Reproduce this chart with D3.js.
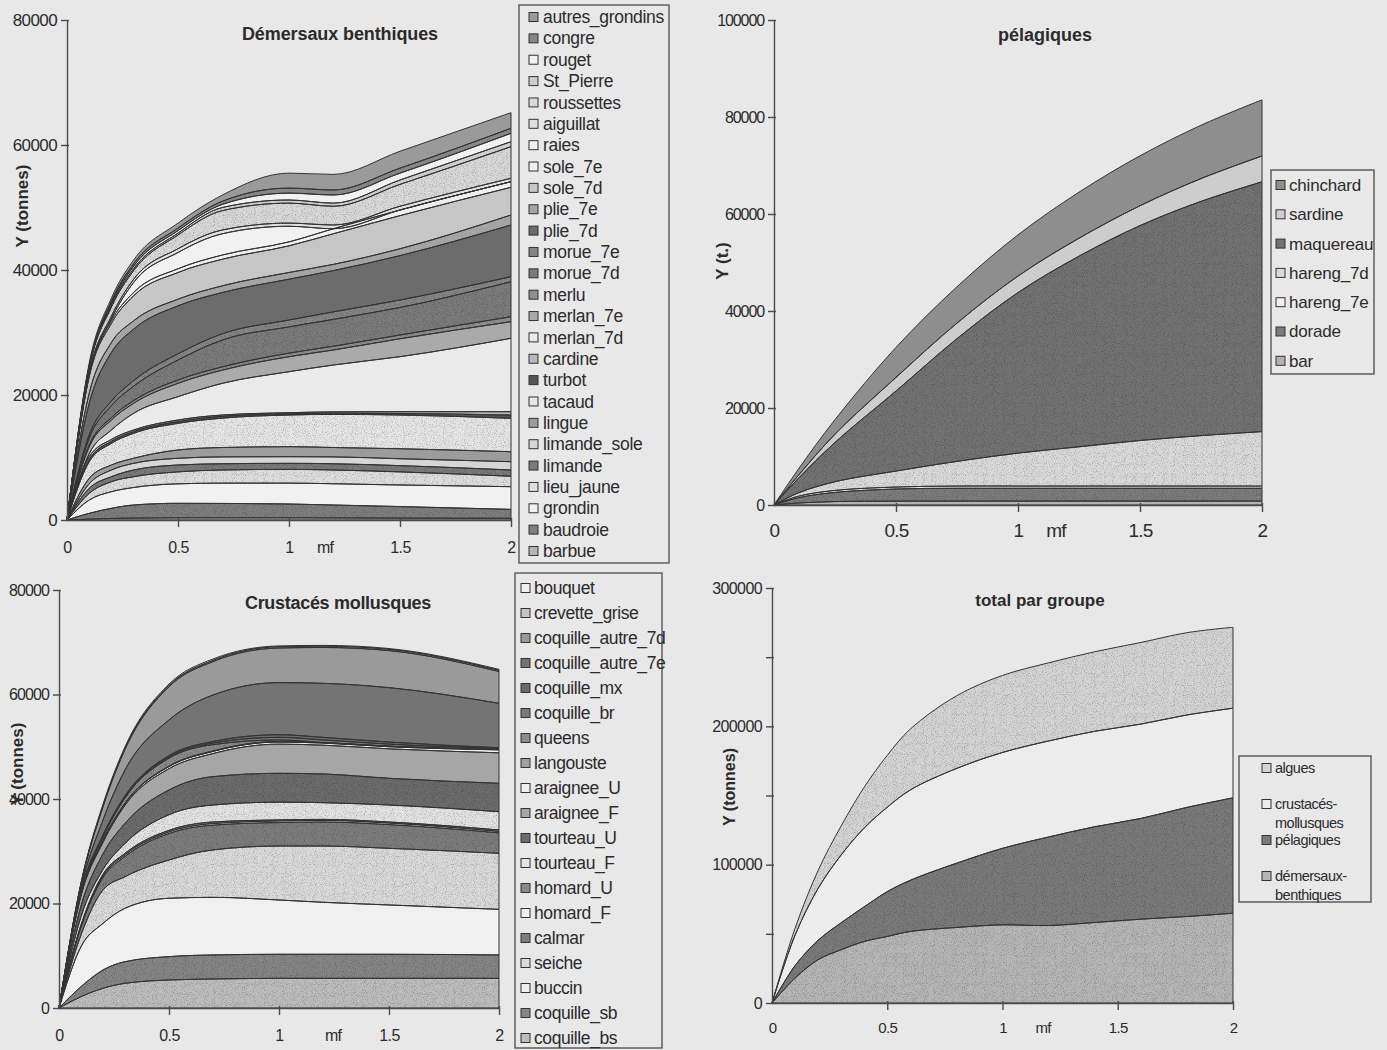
<!DOCTYPE html>
<html><head><meta charset="utf-8">
<script src="https://cdn.jsdelivr.net/npm/d3@7"></script>
<style>
body{margin:0;background:#e8e8e8;}
svg{display:block;}
text{font-family:"Liberation Sans",Arial,sans-serif;fill:#2b2b2b;}
</style></head><body><svg id="c" width="1387" height="1050">
<defs>
  <filter id="noiseF" x="0" y="0" width="100%" height="100%">
    <feTurbulence type="fractalNoise" baseFrequency="1.1" numOctaves="1" seed="3" result="n"/>
    <feColorMatrix in="n" type="matrix" values="0 0 0 0 0  0 0 0 0 0  0 0 0 0 0  3.2 0 0 0 -1.55"/>
  </filter>
  <pattern id="stip" width="240" height="240" patternUnits="userSpaceOnUse">
    <rect width="240" height="240" fill="#000" filter="url(#noiseF)"/>
  </pattern>
</defs>
</svg>
<script>
// ---------- Démersaux benthiques (bottom of stack first) ----------
const mfDem = [0, 0.1, 0.2, 0.3, 0.5, 0.7, 1.0, 1.2, 1.5, 2.0];
const barbue = [0,150,250,300,350,350,350,330,300,270];
const baudroie = [0,920,1620,2100,2320,2300,2210,2070,1850,1430];
const grondin = [0,2130,2660,2800,3120,3250,3340,3400,3450,3630];
const lieu_jaune = [0,1070,1600,1730,1910,2100,2200,2200,2100,1670];
const limande = [0,800,800,1070,1100,1000,970,1000,1000,1000];
const limande_sole = [0,730,1070,1070,1070,1100,1060,1100,1100,1330];
const lingue = [0,870,800,800,1330,1500,1600,1500,1600,1600];
const tacaud = [0,2660,3470,4000,4270,4700,5070,5300,5400,5340];
const turbot = [0,370,330,280,280,300,200,200,250,530];
const cardine = [0,430,300,250,250,200,170,200,280,530];
const merlan_7d = [0,470,1500,2670,3730,5070,6560,7500,8800,11740];
const merlan_7e = [0,1130,1600,1600,2140,2110,2400,2400,2870,2660];
const merlu = [0,270,400,430,530,520,570,600,600,800];
const morue_7d = [0,1100,1900,2300,3200,4300,4200,4300,4400,5600];
const morue_7e = [0,500,700,900,1000,1000,1100,1200,1200,800];
const plie_7d = [0,5070,7800,8230,7670,6600,6530,6600,7100,8270];
const plie_7e = [0,1600,1600,1340,1060,1070,1070,1000,1100,1600];
const sole_7d = [0,2660,3070,4000,4270,4260,4270,4900,5300,4430];
const sole_7e = [0,270,430,530,600,670,630,800,900,900];
const raies = [0,100,300,1600,2600,3400,2500,0,0,0];
const aiguillat = [0,300,400,500,600,600,500,600,600,540];
const roussettes = [0,700,1470,1400,2200,3100,3200,3000,3500,5060];
const St_Pierre = [0,150,330,300,300,500,500,500,700,800];
const rouget = [0,150,300,400,400,500,1100,1300,1100,1340];
const congre = [0,150,300,400,400,500,800,800,800,800];
const autres_grondins = [0,350,500,600,800,1000,2400,2500,2700,2500];

// ---------- Crustacés mollusques ----------
const mfCru = [0, 0.1, 0.2, 0.3, 0.5, 0.7, 1.0, 1.2, 1.5, 2.0];
const coquille_bs = [0,2170,3770,4720,5360,5550,5680,5680,5680,5680];
const coquille_sb = [0,1910,3500,4140,4470,4600,4600,4600,4600,4470];
const buccin = [0,7660,8920,10220,11170,11030,10390,9950,9440,8730];
const seiche = [0,2260,6400,6050,7330,9080,10330,10770,10840,10730];
const calmar = [0,1500,2410,3870,5070,4740,4500,4600,4540,3910];
const homard_F = [0,200,300,300,300,300,300,300,300,280];
const homard_U = [0,200,300,300,300,300,200,200,200,270];
const tourteau_F = [0,1600,900,1900,3000,3250,3400,3200,3250,3500];
const tourteau_U = [0,2000,3000,3850,4730,5430,5520,5490,5110,5430];
const araignee_F = [0,2000,2200,3450,4070,4420,5580,5510,5640,5840];
const araignee_U = [0,200,300,300,400,400,400,400,400,560];
const langouste = [0,100,100,100,100,100,100,100,100,100];
const queens = [0,300,600,1000,1500,1200,300,0,0,0];
const coquille_br = [0,150,200,200,250,300,500,500,400,150];
const coquille_mx = [0,150,200,200,250,300,500,500,400,150];
const coquille_autre_7e = [0,600,2900,4950,6830,8900,9970,10340,10410,8510];
const coquille_autre_7d = [0,700,2500,3950,6370,6400,6630,6860,7090,6090];
const crevette_grise = [0,150,250,250,250,250,250,250,250,250];
const bouquet = [0,150,250,250,250,250,150,150,150,170];

// ---------- pélagiques ----------
const mfPel = [0, 0.1, 0.25, 0.5, 0.75, 1.0, 1.25, 1.5, 1.75, 2.0];
const bar = [0,400,700,800,800,800,800,800,800,800];
const dorade = [0,1100,1900,2500,2650,2650,2650,2650,2650,2650];
const hareng_7e = [0,300,400,400,450,450,450,450,450,450];
const hareng_7d = [0,700,1800,3300,5100,6800,8100,9400,10400,11230];
const maquereau = [0,3000,8100,16500,25300,33100,39300,44300,48300,51510];
const sardine = [0,600,1700,2800,3200,3400,3700,4100,4700,5320];
const chinchard = [0,1300,3000,6200,7500,8500,9500,10300,11000,11580];

// ---------- total par groupe ----------
const mfTot = [0, 0.1, 0.2, 0.3, 0.4, 0.5, 0.6, 0.8, 1.0, 1.2, 1.4, 1.6, 1.8, 2.0];
const demersaux = [0,18000,31300,38500,44500,48100,51700,54600,56500,56000,58200,60600,62500,64900];
const pelagiques = [0,9000,14000,19500,25000,32400,37000,46400,55300,64000,69200,72800,78900,83400];
const crustaces = [0,22000,37500,49000,57000,61000,65300,68500,69300,69400,69000,68200,66800,64800];
const algues = [0,5000,13000,21000,29500,37500,44000,52500,55700,56500,57500,59000,59500,58500];

const xTicks = [0, 0.5, 1, 1.5, 2];

const svg = d3.select("#c");

function panel(o) {
  const g = svg.append("g");
  const x = d3.scaleLinear().domain([0, 2]).range([o.left, o.right]);
  const y = d3.scaleLinear().domain([0, o.ymax]).range([o.bottom, o.top]);
  const keys = o.series.map(s => s.name);
  const rows = o.xs.map((mf, i) => { const r = {mf}; o.series.forEach(s => r[s.name] = s.values[i]); return r; });
  const stacked = d3.stack().keys(keys)(rows);
  const area = d3.area().x(d => x(d.data.mf)).y0(d => y(d[0])).y1(d => y(d[1])).curve(o.curve);
  g.selectAll("path.layer").data(stacked).join("path").attr("class", "layer")
    .attr("d", area).attr("fill", (d, i) => o.series[i].color);
  g.selectAll("path.stip").data(stacked.filter((d, i) => o.series[i].stip)).join("path").attr("class", "stip")
    .attr("d", area).attr("fill", "url(#stip)").attr("opacity", 0.24);
  g.selectAll("path.edge").data(stacked).join("path").attr("class", "edge")
    .attr("d", area).attr("fill", "none")
    .attr("stroke", "#333").attr("stroke-width", 1).attr("stroke-linejoin", "round");

  // y axis
  const ya = d3.axisLeft(y).tickValues(o.yTicks).tickSize(6).tickSizeOuter(0).tickPadding(4)
    .tickFormat(o.yFmt || (d => String(d)));
  const gy = g.append("g").attr("transform", `translate(${o.left},0)`).call(ya);
  gy.select(".domain").attr("stroke", "#4a4a4a").attr("stroke-width", 1.4);
  gy.selectAll(".tick line").attr("stroke", "#4a4a4a").attr("stroke-width", 1.4).attr("x2", -6).attr("x1", 2);
  gy.selectAll(".tick text").attr("font-size", o.yFont).attr("letter-spacing", o.yLs)
    .attr("fill", "#2b2b2b").attr("font-family", "Liberation Sans, Arial, sans-serif");

  // x axis
  const xa = d3.axisBottom(x).tickValues(xTicks).tickSize(6).tickSizeOuter(0).tickFormat(d => String(d));
  const gx = g.append("g").attr("transform", `translate(0,${o.bottom})`).call(xa);
  gx.select(".domain").attr("stroke", "#4a4a4a").attr("stroke-width", 1.4);
  gx.selectAll(".tick line").attr("stroke", "#4a4a4a").attr("stroke-width", 1.4).attr("y1", -2)
    .attr("y2", d => d === 0 ? 0 : 7);
  gx.selectAll(".tick text").attr("font-size", o.xFont).attr("y", o.xLabelDy).attr("dy", "0.35em")
    .attr("letter-spacing", o.xLs).attr("fill", "#2b2b2b").attr("font-family", "Liberation Sans, Arial, sans-serif");

  // titles
  g.append("text").attr("x", o.titleX).attr("y", o.titleY).attr("text-anchor", "middle")
    .attr("font-weight", "bold").attr("font-size", o.titleFont).attr("letter-spacing", o.titleLs).text(o.title);
  g.append("text").attr("transform", `translate(${o.yTitleX},${o.yTitleY}) rotate(-90)`)
    .attr("text-anchor", "middle").attr("dy", "0.35em").attr("font-weight", "bold")
    .attr("font-size", o.yTitleFont).attr("letter-spacing", 0).text(o.yTitle);
  g.append("text").attr("x", o.mfX).attr("y", o.bottom + o.xLabelDy).attr("dy", "0.35em")
    .attr("text-anchor", "middle").attr("font-size", o.xFont).attr("letter-spacing", -0.8).text("mf");

  // legend (top of stack listed first)
  const L = o.legend;
  const lg = g.append("g");
  lg.append("rect").attr("x", L.x).attr("y", L.y).attr("width", L.w).attr("height", L.h)
    .attr("fill", "none").attr("stroke", "#555").attr("stroke-width", 1.4);
  const items = o.series.slice().reverse();
  items.forEach((s, i) => {
    const cy = L.itemY ? L.itemY[i] : L.y0 + i * L.dy;
    lg.append("rect").attr("x", L.sqX).attr("y", cy - L.sq / 2).attr("width", L.sq).attr("height", L.sq)
      .attr("fill", s.color).attr("stroke", "#333").attr("stroke-width", 1);
    const lines = s.label || [s.name];
    lines.forEach((t, k) => {
      lg.append("text").attr("x", L.txX).attr("y", cy + k * L.lineH).attr("dy", "0.35em")
        .attr("font-size", L.font).attr("letter-spacing", L.ls).text(t);
    });
  });
}

panel({
  left: 67, right: 511, top: 20, bottom: 520, ymax: 80000, curve: d3.curveMonotoneX,
  yTicks: [0, 20000, 40000, 60000, 80000], yFont: 17, yLs: -0.6,
  xs: mfDem, xFont: 16, xLs: -0.6, xLabelDy: 27,
  title: "Démersaux benthiques", titleX: 340, titleY: 40, titleFont: 18, titleLs: -0.1,
  yTitle: "Y (tonnes)", yTitleX: 22, yTitleY: 206, yTitleFont: 17, mfX: 325,
  series: [
    {name: "barbue", values: barbue, color: "#b4b4b4"},
    {name: "baudroie", values: baudroie, color: "#7e7e7e", stip: true},
    {name: "grondin", values: grondin, color: "#f1f1f1"},
    {name: "lieu_jaune", values: lieu_jaune, color: "#dedede", stip: true},
    {name: "limande", values: limande, color: "#7a7a7a", stip: true},
    {name: "limande_sole", values: limande_sole, color: "#d6d6d6"},
    {name: "lingue", values: lingue, color: "#9c9c9c"},
    {name: "tacaud", values: tacaud, color: "#e6e6e6", stip: true},
    {name: "turbot", values: turbot, color: "#555555"},
    {name: "cardine", values: cardine, color: "#b8b8b8"},
    {name: "merlan_7d", values: merlan_7d, color: "#eaeaea"},
    {name: "merlan_7e", values: merlan_7e, color: "#aaaaaa"},
    {name: "merlu", values: merlu, color: "#8e8e8e", stip: true},
    {name: "morue_7d", values: morue_7d, color: "#7b7b7b", stip: true},
    {name: "morue_7e", values: morue_7e, color: "#858585", stip: true},
    {name: "plie_7d", values: plie_7d, color: "#6c6c6c"},
    {name: "plie_7e", values: plie_7e, color: "#a4a4a4"},
    {name: "sole_7d", values: sole_7d, color: "#c6c6c6"},
    {name: "sole_7e", values: sole_7e, color: "#efefef"},
    {name: "raies", values: raies, color: "#f1f1f1"},
    {name: "aiguillat", values: aiguillat, color: "#e0e0e0"},
    {name: "roussettes", values: roussettes, color: "#d9d9d9", stip: true},
    {name: "St_Pierre", values: St_Pierre, color: "#cdcdcd"},
    {name: "rouget", values: rouget, color: "#f1f1f1"},
    {name: "congre", values: congre, color: "#868686"},
    {name: "autres_grondins", values: autres_grondins, color: "#9a9a9a"}
  ],
  legend: {x: 519, y: 5, w: 150, h: 558, y0: 17, dy: 21.36, sq: 9, sqX: 529, txX: 543, font: 17.5, ls: -0.3, lineH: 16}
});

panel({
  left: 774, right: 1262, top: 20, bottom: 505, ymax: 100000, curve: d3.curveCatmullRom.alpha(0.5),
  yTicks: [0, 20000, 40000, 60000, 80000, 100000], yFont: 16, yLs: -1.1,
  xs: mfPel, xFont: 19, xLs: -0.8, xLabelDy: 25,
  title: "pélagiques", titleX: 1045, titleY: 41, titleFont: 18, titleLs: 0,
  yTitle: "Y (t.)", yTitleX: 722, yTitleY: 261, yTitleFont: 17, mfX: 1056,
  series: [
    {name: "bar", values: bar, color: "#b2b2b2"},
    {name: "dorade", values: dorade, color: "#7c7c7c", stip: true},
    {name: "hareng_7e", values: hareng_7e, color: "#efefef"},
    {name: "hareng_7d", values: hareng_7d, color: "#dadada", stip: true},
    {name: "maquereau", values: maquereau, color: "#727272", stip: true},
    {name: "sardine", values: sardine, color: "#cdcdcd"},
    {name: "chinchard", values: chinchard, color: "#8e8e8e"}
  ],
  legend: {x: 1271, y: 170, w: 103, h: 204, y0: 185, dy: 29.3, sq: 9, sqX: 1276, txX: 1289, font: 17, ls: -0.2, lineH: 16}
});

panel({
  left: 59, right: 499, top: 590, bottom: 1008, ymax: 80000, curve: d3.curveMonotoneX,
  yTicks: [0, 20000, 40000, 60000, 80000], yFont: 16, yLs: -0.9,
  xs: mfCru, xFont: 16, xLs: -0.6, xLabelDy: 27,
  title: "Crustacés mollusques", titleX: 338, titleY: 609, titleFont: 18, titleLs: -0.3,
  yTitle: "Y (tonnes)", yTitleX: 17, yTitleY: 764, yTitleFont: 17, mfX: 333,
  series: [
    {name: "coquille_bs", values: coquille_bs, color: "#bdbdbd", stip: true},
    {name: "coquille_sb", values: coquille_sb, color: "#858585", stip: true},
    {name: "buccin", values: buccin, color: "#f0f0f0"},
    {name: "seiche", values: seiche, color: "#dadada", stip: true},
    {name: "calmar", values: calmar, color: "#7c7c7c", stip: true},
    {name: "homard_F", values: homard_F, color: "#eeeeee"},
    {name: "homard_U", values: homard_U, color: "#8a8a8a"},
    {name: "tourteau_F", values: tourteau_F, color: "#e3e3e3", stip: true},
    {name: "tourteau_U", values: tourteau_U, color: "#6c6c6c", stip: true},
    {name: "araignee_F", values: araignee_F, color: "#a6a6a6"},
    {name: "araignee_U", values: araignee_U, color: "#f0f0f0"},
    {name: "langouste", values: langouste, color: "#a0a0a0"},
    {name: "queens", values: queens, color: "#8a8a8a", stip: true},
    {name: "coquille_br", values: coquille_br, color: "#7a7a7a"},
    {name: "coquille_mx", values: coquille_mx, color: "#6a6a6a"},
    {name: "coquille_autre_7e", values: coquille_autre_7e, color: "#747474"},
    {name: "coquille_autre_7d", values: coquille_autre_7d, color: "#9a9a9a"},
    {name: "crevette_grise", values: crevette_grise, color: "#c4c4c4"},
    {name: "bouquet", values: bouquet, color: "#efefef"}
  ],
  legend: {x: 515, y: 573, w: 147, h: 475, y0: 588, dy: 25, sq: 9, sqX: 521, txX: 534, font: 17.5, ls: -0.4, lineH: 16}
});

panel({
  left: 772, right: 1233, top: 588, bottom: 1003, ymax: 300000, curve: d3.curveCatmullRom.alpha(0.5),
  yTicks: [0, 50000, 100000, 150000, 200000, 250000, 300000], yFont: 16, yLs: -0.6,
  yFmt: d => (d % 100000 === 0 ? String(d) : ""),
  xs: mfTot, xFont: 15, xLs: -0.6, xLabelDy: 25,
  title: "total par groupe", titleX: 1040, titleY: 606, titleFont: 17, titleLs: 0,
  yTitle: "Y (tonnes)", yTitleX: 729, yTitleY: 787, yTitleFont: 16, mfX: 1043,
  series: [
    {name: "demersaux", values: demersaux, color: "#b6b6b6", stip: true, label: ["démersaux-", "benthiques"]},
    {name: "pelagiques", values: pelagiques, color: "#7a7a7a", stip: true, label: ["pélagiques"]},
    {name: "crustaces", values: crustaces, color: "#ececec", label: ["crustacés-", "mollusques"]},
    {name: "algues", values: algues, color: "#d4d4d4", stip: true, label: ["algues"]}
  ],
  legend: {x: 1239, y: 756, w: 132, h: 146, itemY: [768, 804, 840, 876], sq: 9, sqX: 1262, txX: 1275, font: 14.5, ls: -0.5, lineH: 18.5}
});
</script></body></html>
